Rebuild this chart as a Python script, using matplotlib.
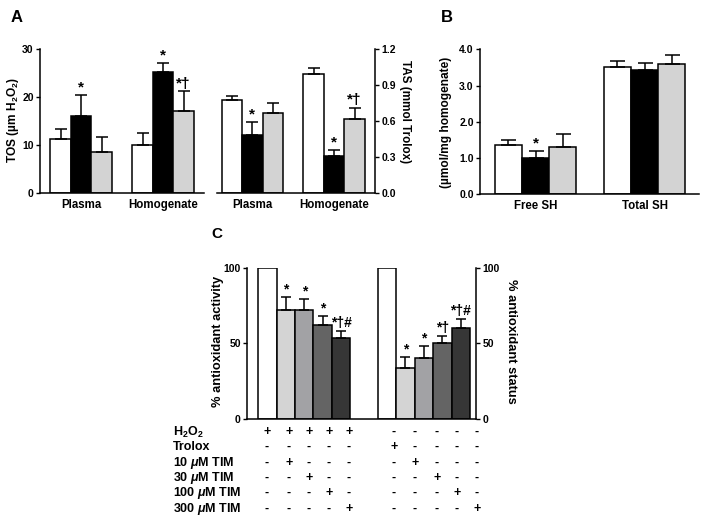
import matplotlib
matplotlib.use('Agg')
import matplotlib.pyplot as plt
import numpy as np

plt.rcParams['font.family'] = ['Liberation Sans', 'DejaVu Sans']
plt.rcParams['font.weight'] = 'bold'
plt.rcParams['mathtext.fontset'] = 'custom'
plt.rcParams['mathtext.rm'] = 'Liberation Sans:bold'
plt.rcParams['mathtext.it'] = 'Liberation Sans:italic:bold'
plt.rcParams['mathtext.bf'] = 'Liberation Sans:bold'

# ---------------- data ----------------
groups_A = ['Plasma', 'Homogenate']
tos_mean = [[11.2, 16.0, 8.5], [10.0, 25.2, 17.1]]
tos_err = [[2.1, 4.4, 3.2], [2.6, 1.8, 4.1]]
tos_sig = [['', '*', ''], ['', '*', '*†']]
tos_ticks = [0, 10, 20, 30]

tas_mean = [[0.775, 0.48, 0.665], [0.99, 0.31, 0.62]]
tas_err = [[0.035, 0.11, 0.085], [0.05, 0.05, 0.09]]
tas_sig = [['', '*', ''], ['', '*', '*†']]
tas_ticks = [0.0, 0.3, 0.6, 0.9, 1.2]

groups_B = ['Free SH', 'Total SH']
sh_mean = [[1.37, 0.99, 1.31], [3.52, 3.44, 3.61]]
sh_err = [[0.12, 0.19, 0.35], [0.17, 0.19, 0.25]]
sh_sig = [['', '*', ''], ['', '', '']]
sh_ticks = [0.0, 1.0, 2.0, 3.0, 4.0]

act_mean = [100, 72, 72, 62.3, 53.3]
act_err = [0, 8.8, 7.3, 6.0, 4.8]
act_sig = ['', '*', '*', '*', '*†#']
status_mean = [100, 33.9, 40.1, 50.0, 60.4]
status_err = [0, 7.3, 8.1, 5.1, 5.9]
status_sig = ['', '*', '*', '*†', '*†#']
pct_ticks = [0, 50, 100]

table_rows = ['H$_2$O$_2$', 'Trolox', '10 $\\mathit{\\mu}$M TIM', '30 $\\mathit{\\mu}$M TIM',
              '100 $\\mathit{\\mu}$M TIM', '300 $\\mathit{\\mu}$M TIM']
table_left = ['+++++', '-----', '-+---', '--+--', '---+-', '----+']
table_right = ['-----', '+----', '-+---', '--+--', '---+-', '----+']

# ---------------- styles ----------------
W, H = 703, 518
group_colors = ['white', 'black', '#d3d3d3']
c_colors = ['white', '#d4d4d4', '#a2a2a5', '#646464', '#363636']
EDGE = 1.1
TICKFS = 7.5
XLABFS = 8.3
SIGFS = 11
TABFS = 9

fig = plt.figure(figsize=(W / 100, H / 100), dpi=100)


def axes_px(x0, x1, ytop, ybot):
    return fig.add_axes([x0 / W, 1 - ybot / H, (x1 - x0) / W, (ybot - ytop) / H])


def ftext(x, y, s, **kw):
    fig.text(x / W, 1 - y / H, s, **kw)


def style_axes(ax, side='left'):
    for sp in ['top', 'right', 'left', 'bottom']:
        ax.spines[sp].set_visible(False)
    ax.spines['bottom'].set_visible(True)
    ax.spines[side].set_visible(True)
    for sp in ax.spines.values():
        sp.set_linewidth(1.1)
    ax.tick_params(axis='y', length=3, width=1.0, labelsize=TICKFS, pad=1.5, direction='out')
    ax.tick_params(axis='x', length=0, labelsize=XLABFS, pad=4)
    if side == 'right':
        ax.yaxis.tick_right()
    for lab in ax.get_yticklabels() + ax.get_xticklabels():
        lab.set_fontweight('bold')


def sig_text(ax, x, top, s, fs):
    ax.annotate(s, (x, top), xytext=(0, 2.6), textcoords='offset points',
                ha='center', va='baseline', fontsize=fs, fontweight='bold')


def grouped(ax, means, errs, sigs, capsize):
    for g, (m, e, s) in enumerate(zip(means, errs, sigs)):
        xs = np.arange(3) - 1 + 4 * g
        ax.bar(xs, m, width=1.0, color=group_colors, edgecolor='black', linewidth=EDGE, zorder=2)
        ax.errorbar(xs, m, yerr=[np.zeros(3), e], fmt='none', ecolor='black',
                    elinewidth=1.1, capsize=capsize, capthick=1.1, zorder=3)
        for x, mm, ee, ss in zip(xs, m, e, s):
            if ss:
                sig_text(ax, x, mm + ee, ss, SIGFS)


# ---------------- Panel A left (TOS) ----------------
ax1 = axes_px(40, 204, 49, 193)
grouped(ax1, tos_mean, tos_err, tos_sig, 4.3)
ax1.set_xlim(-2, 6)
ax1.set_ylim(0, 30)
ax1.set_yticks(tos_ticks)
ax1.set_xticks([0, 4])
ax1.set_xticklabels(groups_A)
style_axes(ax1, 'left')

# ---------------- Panel A right (TAS) ----------------
ax2 = axes_px(217, 375, 49, 193)
grouped(ax2, tas_mean, tas_err, tas_sig, 4.3)
ax2.set_xlim(-1.73, 6)
ax2.set_ylim(0, 1.2)
ax2.set_yticks(tas_ticks)
ax2.set_yticklabels([f'{t:.1f}' for t in tas_ticks])
ax2.set_xticks([0, 4])
ax2.set_xticklabels(groups_A)
style_axes(ax2, 'right')

# ---------------- Panel B (SH) ----------------
ax3 = axes_px(480, 699, 49.5, 194)
grouped(ax3, sh_mean, sh_err, sh_sig, 5.4)
ax3.set_xlim(-2.04, 6)
ax3.set_ylim(0, 4)
ax3.set_yticks(sh_ticks)
ax3.set_yticklabels([f'{t:.1f}' for t in sh_ticks])
ax3.set_xticks([0, 4])
ax3.set_xticklabels(groups_B)
style_axes(ax3, 'left')

# ---------------- Panel C ----------------
ax4 = axes_px(247, 476, 267.7, 419)
for off, m, e, s in [(0, act_mean, act_err, act_sig), (6.5, status_mean, status_err, status_sig)]:
    xs = np.arange(5) + off
    ax4.bar(xs, m, width=1.0, color=c_colors, edgecolor='black', linewidth=EDGE, zorder=2)
    ax4.errorbar(xs[1:], m[1:], yerr=[np.zeros(4), e[1:]], fmt='none', ecolor='black',
                 elinewidth=1.1, capsize=3.6, capthick=1.1, zorder=3)
    for x, mm, ee, ss in zip(xs, m, e, s):
        if ss:
            sig_text(ax4, x, mm + ee, ss, SIGFS - 1)
ax4.set_xlim(-1.11, 11.33)
ax4.set_ylim(0, 100)
ax4.set_yticks(pct_ticks)
ax4.set_xticks([])
style_axes(ax4, 'left')
ax4r = ax4.twinx()
ax4r.set_ylim(0, 100)
ax4r.set_yticks(pct_ticks)
for sp in ['top', 'left', 'bottom']:
    ax4r.spines[sp].set_visible(False)
ax4r.spines['right'].set_linewidth(1.1)
ax4r.tick_params(axis='y', length=3, width=1.0, labelsize=TICKFS, pad=1.5)
for lab in ax4r.get_yticklabels():
    lab.set_fontweight('bold')

# ---------------- labels ----------------
ftext(13, 120, 'TOS (µm H$_2$O$_2$)', rotation=90, ha='center', va='center', fontsize=8.6)
ftext(405, 112, 'TAS (mmol Trolox)', rotation=270, ha='center', va='center', fontsize=8.4)
ftext(446, 122, '(µmol/mg homogenate)', rotation=90, ha='center', va='center', fontsize=8.6)
ftext(218, 341, '% antioxidant activity', rotation=90, ha='center', va='center', fontsize=9.3)
ftext(511, 341, '% antioxidant status', rotation=270, ha='center', va='center', fontsize=9.3)

ftext(11, 18, 'A', fontsize=12, ha='left', va='center')
ftext(441, 18, 'B', fontsize=12, ha='left', va='center')
ftext(211, 234, 'C', fontsize=11, ha='left', va='center')

# ---------------- table ----------------
row_y = [432, 447, 463, 478, 493, 509]
left_cols = [267, 289, 309, 329, 349]
right_cols = [394, 415, 437, 457, 477]
for y, lab, lrow, rrow in zip(row_y, table_rows, table_left, table_right):
    ftext(173, y, lab, ha='left', va='center', fontsize=TABFS)
    for x, ch in zip(left_cols, lrow):
        ftext(x, y, ch, ha='center', va='center', fontsize=TABFS)
    for x, ch in zip(right_cols, rrow):
        ftext(x, y, ch, ha='center', va='center', fontsize=TABFS)

fig.savefig('out.png', dpi=100)
